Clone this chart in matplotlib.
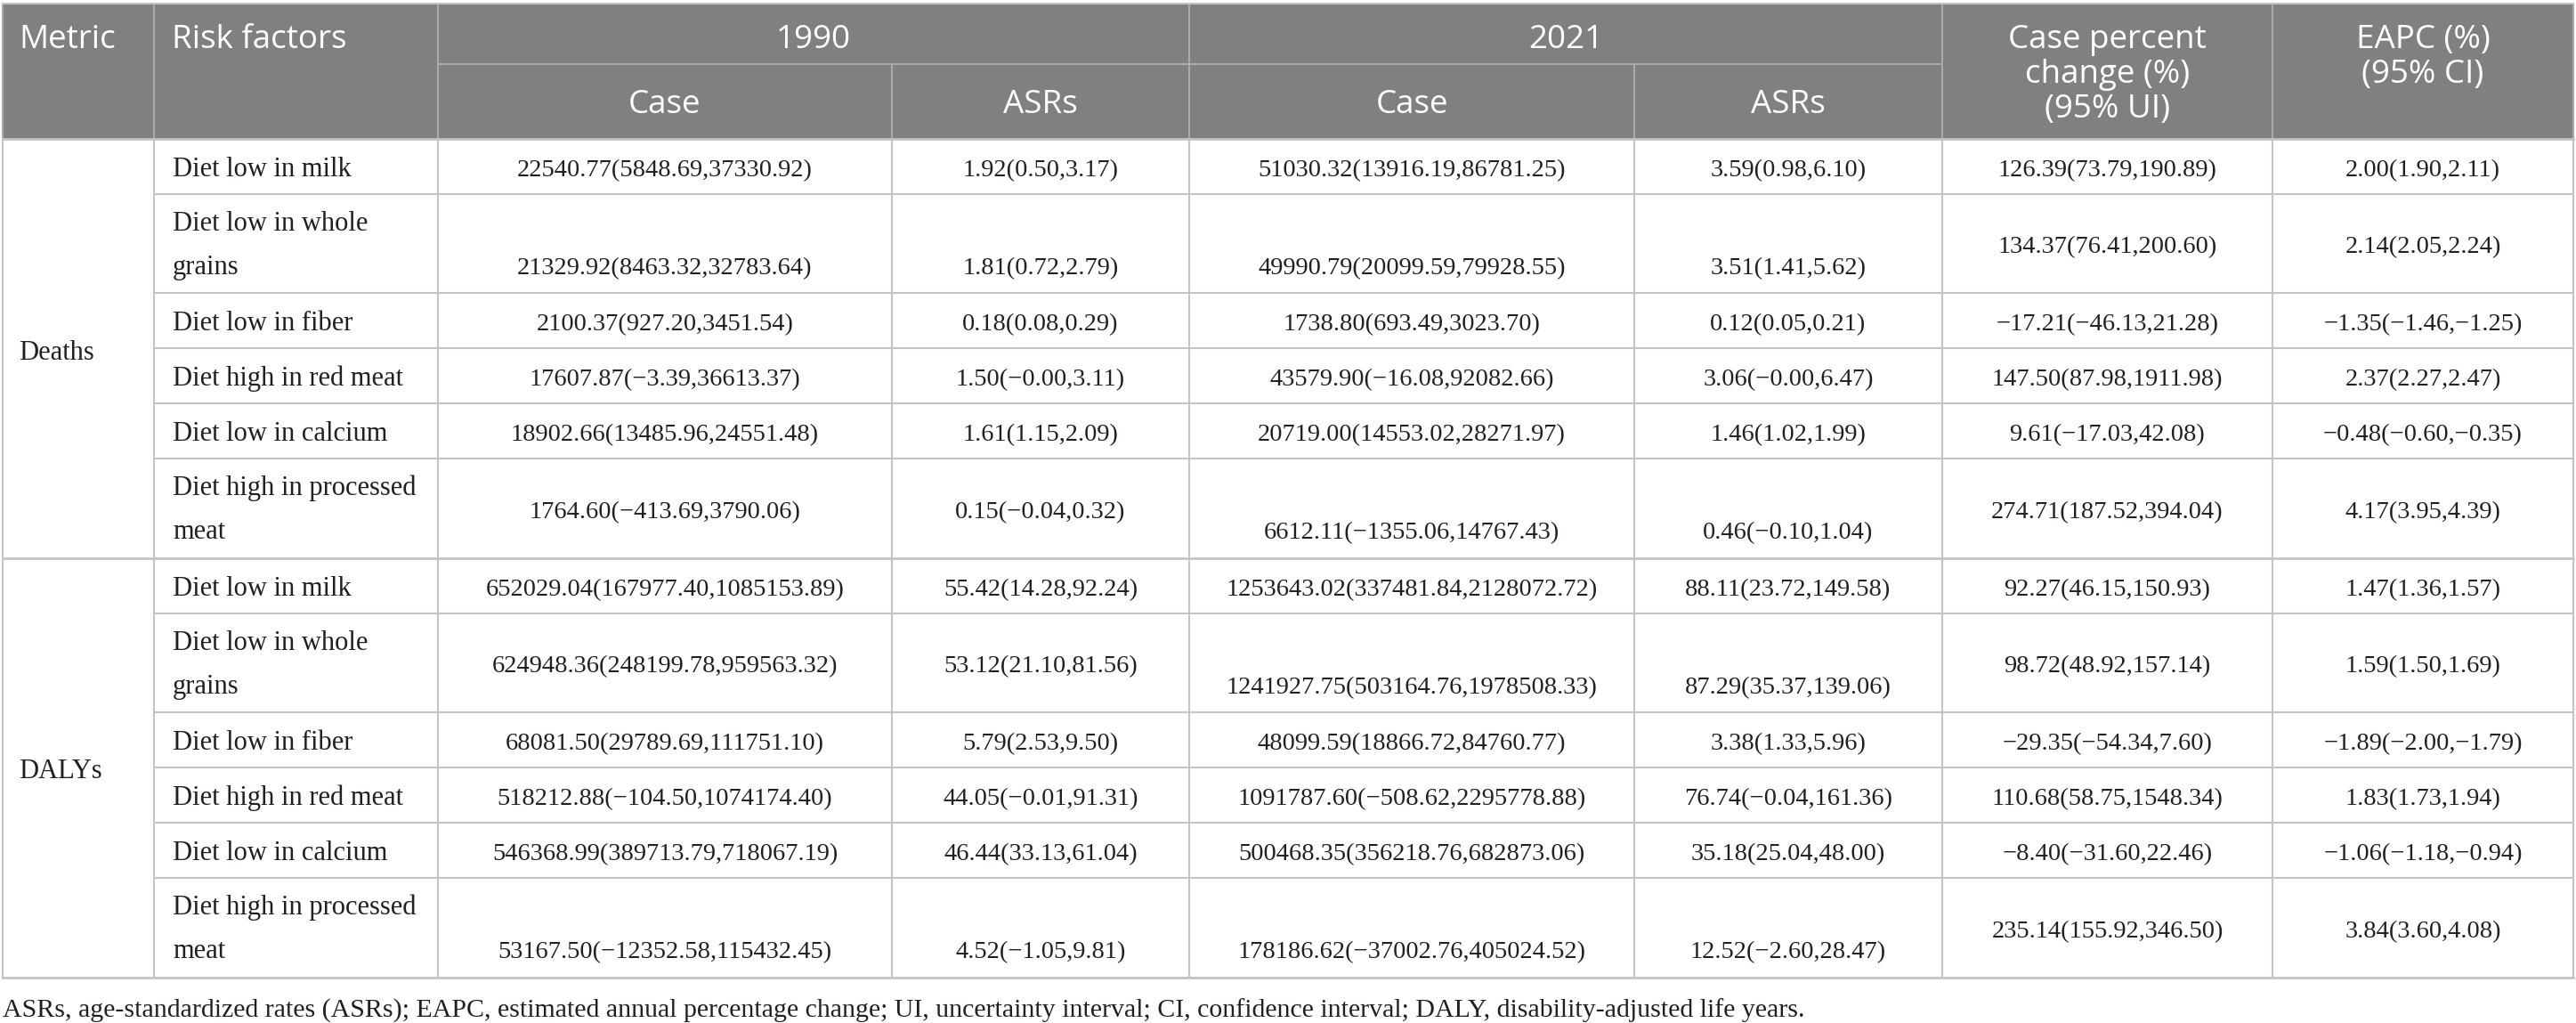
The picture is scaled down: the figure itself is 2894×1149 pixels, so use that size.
import matplotlib
matplotlib.use("Agg")
import matplotlib.pyplot as plt

# ---- data ----
metrics = ["Deaths", "DALYs"]
risk_factors = [
    ["Diet low in milk"],
    ["Diet low in whole", "grains"],
    ["Diet low in fiber"],
    ["Diet high in red meat"],
    ["Diet low in calcium"],
    ["Diet high in processed", "meat"],
]

# (value, lower, upper) per risk factor, Deaths first then DALYs
case_1990 = [
    (22540.77, 5848.69, 37330.92), (21329.92, 8463.32, 32783.64), (2100.37, 927.20, 3451.54),
    (17607.87, -3.39, 36613.37), (18902.66, 13485.96, 24551.48), (1764.60, -413.69, 3790.06),
    (652029.04, 167977.40, 1085153.89), (624948.36, 248199.78, 959563.32), (68081.50, 29789.69, 111751.10),
    (518212.88, -104.50, 1074174.40), (546368.99, 389713.79, 718067.19), (53167.50, -12352.58, 115432.45),
]
asr_1990 = [
    (1.92, 0.50, 3.17), (1.81, 0.72, 2.79), (0.18, 0.08, 0.29),
    (1.50, -0.0, 3.11), (1.61, 1.15, 2.09), (0.15, -0.04, 0.32),
    (55.42, 14.28, 92.24), (53.12, 21.10, 81.56), (5.79, 2.53, 9.50),
    (44.05, -0.01, 91.31), (46.44, 33.13, 61.04), (4.52, -1.05, 9.81),
]
case_2021 = [
    (51030.32, 13916.19, 86781.25), (49990.79, 20099.59, 79928.55), (1738.80, 693.49, 3023.70),
    (43579.90, -16.08, 92082.66), (20719.00, 14553.02, 28271.97), (6612.11, -1355.06, 14767.43),
    (1253643.02, 337481.84, 2128072.72), (1241927.75, 503164.76, 1978508.33), (48099.59, 18866.72, 84760.77),
    (1091787.60, -508.62, 2295778.88), (500468.35, 356218.76, 682873.06), (178186.62, -37002.76, 405024.52),
]
asr_2021 = [
    (3.59, 0.98, 6.10), (3.51, 1.41, 5.62), (0.12, 0.05, 0.21),
    (3.06, -0.0, 6.47), (1.46, 1.02, 1.99), (0.46, -0.10, 1.04),
    (88.11, 23.72, 149.58), (87.29, 35.37, 139.06), (3.38, 1.33, 5.96),
    (76.74, -0.04, 161.36), (35.18, 25.04, 48.00), (12.52, -2.60, 28.47),
]
pct_change = [
    (126.39, 73.79, 190.89), (134.37, 76.41, 200.60), (-17.21, -46.13, 21.28),
    (147.50, 87.98, 1911.98), (9.61, -17.03, 42.08), (274.71, 187.52, 394.04),
    (92.27, 46.15, 150.93), (98.72, 48.92, 157.14), (-29.35, -54.34, 7.60),
    (110.68, 58.75, 1548.34), (-8.40, -31.60, 22.46), (235.14, 155.92, 346.50),
]
eapc = [
    (2.00, 1.90, 2.11), (2.14, 2.05, 2.24), (-1.35, -1.46, -1.25),
    (2.37, 2.27, 2.47), (-0.48, -0.60, -0.35), (4.17, 3.95, 4.39),
    (1.47, 1.36, 1.57), (1.59, 1.50, 1.69), (-1.89, -2.00, -1.79),
    (1.83, 1.73, 1.94), (-1.06, -1.18, -0.94), (3.84, 3.60, 4.08),
]
columns = [case_1990, asr_1990, case_2021, asr_2021, pct_change, eapc]

sub_headers = ["Case", "ASRs", "Case", "ASRs"]
footnote = ("ASRs, age-standardized rates (ASRs); EAPC, estimated annual percentage change; "
            "UI, uncertainty interval; CI, confidence interval; DALY, disability-adjusted life years.")


def fmt(t):
    s = "{:.2f}({:.2f},{:.2f})".format(*t)
    return s.replace("-", "\u2212")


# ---- layout (pixel coords) ----
W, H = 2894, 1149
col_x = [3, 173, 492, 1002, 1336, 1836, 2182, 2553, 2891]
head_top, head_mid, head_bot = 4, 72, 156
row_h = [62, 111, 62, 62, 62, 112]
# vertical placement in two-line rows: b=bottom line, m=middle
valign = {
    1: ["b", "b", "b", "b", "m", "m"],
    5: ["m", "m", "b", "b", "m", "m"],
    7: ["m", "m", "b", "b", "m", "m"],
    11: ["b", "b", "b", "b", "m", "m"],
}

HEAD_BG = "#808080"
GRID = "#c4c4c4"
HEAD_GRID = "#aaaaaa"
TXT = "#231f20"
serif = "Liberation Serif"
sans = "Open Sans"
fs_body = 20.5
fs_name = 22
fs_head = 26.5

fig = plt.figure(figsize=(W / 100, H / 100), dpi=100)
ax = fig.add_axes([0, 0, 1, 1])
ax.set_xlim(0, W)
ax.set_ylim(H, 0)
ax.axis("off")

# header background
ax.fill_between([col_x[0], col_x[-1]], head_top, head_bot, color=HEAD_BG, lw=0)

# header lines
lw = 1.5
for x in [col_x[1], col_x[2], col_x[4], col_x[6], col_x[7]]:
    ax.plot([x, x], [head_top, head_bot], color=HEAD_GRID, lw=lw)
for x in [col_x[3], col_x[5]]:
    ax.plot([x, x], [head_mid, head_bot], color=HEAD_GRID, lw=lw)
ax.plot([col_x[2], col_x[6]], [head_mid, head_mid], color=HEAD_GRID, lw=lw)
ax.plot([col_x[0], col_x[0]], [head_top, head_bot], color=HEAD_GRID, lw=lw)
ax.plot([col_x[-1], col_x[-1]], [head_top, head_bot], color=HEAD_GRID, lw=lw)
ax.plot([col_x[0], col_x[-1]], [head_top, head_top], color=GRID, lw=lw)

# header text
hk = dict(color="white", fontsize=fs_head, family=sans, va="baseline")
ax.text(21, 54, "Metric", ha="left", **hk)
ax.text(193, 54, "Risk factors", ha="left", **hk)
ax.text((col_x[2] + col_x[4]) / 2, 54, "1990", ha="center", **hk)
ax.text((col_x[4] + col_x[6]) / 2, 54, "2021", ha="center", **hk)
for i, s in enumerate(sub_headers):
    ax.text((col_x[2 + i] + col_x[3 + i]) / 2, 127, s, ha="center", **hk)
for j, s in enumerate(["Case percent", "change (%)", "(95% UI)"]):
    ax.text((col_x[6] + col_x[7]) / 2, 54 + 39 * j, s, ha="center", **hk)
for j, s in enumerate(["EAPC (%)", "(95% CI)"]):
    ax.text((col_x[7] + col_x[8]) / 2, 54 + 39 * j, s, ha="center", **hk)

# body
bk = dict(color=TXT, fontsize=fs_body, family=serif, va="baseline")
nk = dict(bk, fontsize=fs_name)
y = head_bot
r = 0
for g, metric in enumerate(metrics):
    g_top = y
    for k, name in enumerate(risk_factors):
        h = row_h[k]
        top = y
        mid = top + h / 2 + 11
        if len(name) == 1:
            ax.text(194, mid, name[0], ha="left", **nk)
        else:
            ax.text(194, top + 41, name[0], ha="left", **nk)
            ax.text(194, top + 90, name[1], ha="left", **nk)
        for c, col in enumerate(columns):
            cx = (col_x[2 + c] + col_x[3 + c]) / 2
            yy = mid
            if r in valign and valign[r][c] == "b":
                yy = top + 90
            ax.text(cx, yy, fmt(col[r]), ha="center", **bk)
        y += h
        r += 1
        if k < len(risk_factors) - 1:
            ax.plot([col_x[1], col_x[-1]], [y, y], color=GRID, lw=lw)
    ax.text(21, (g_top + y) / 2 + 12, metric, ha="left", **nk)
    ax.plot([col_x[0], col_x[-1]], [y, y], color=GRID, lw=2)

body_bot = y
ax.plot([col_x[0], col_x[-1]], [head_bot, head_bot], color=GRID, lw=2)
for x in col_x:
    ax.plot([x, x], [head_bot, body_bot], color=GRID, lw=lw)

ax.text(3, 1143, footnote, ha="left", color=TXT, fontsize=21.5, family=serif, va="baseline")

fig.savefig("out.png", dpi=100)
